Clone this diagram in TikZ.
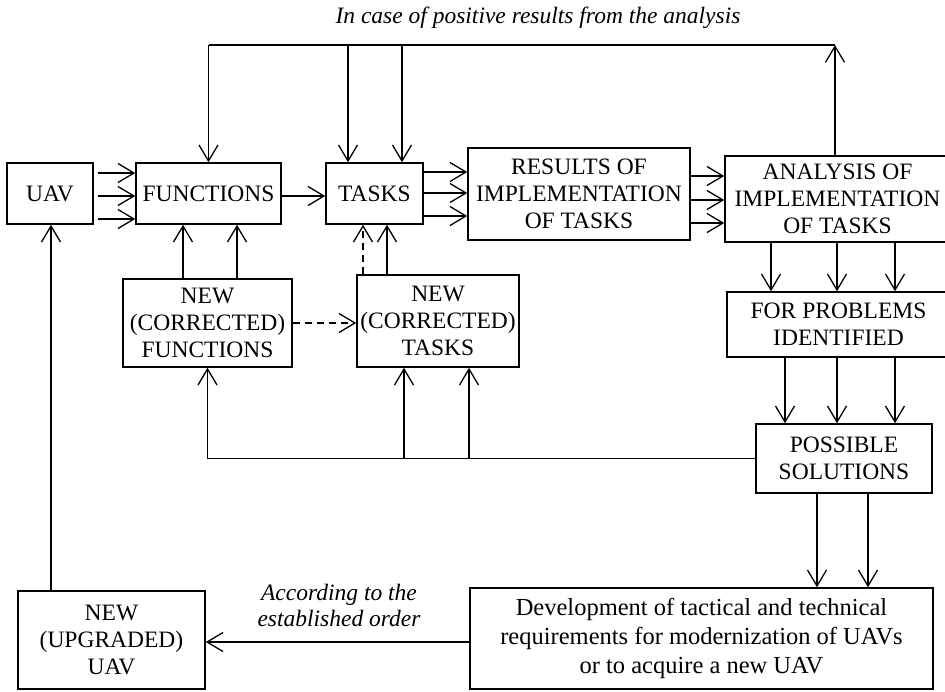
\documentclass[tikz,border=0pt]{standalone}
\usepackage{fontspec}
\setmainfont{Liberation Serif}
\usetikzlibrary{arrows.meta,calc,positioning}

\tikzset{
   line/.style={line width=1.3pt},
   flow/.style={-{Straight Barb[length=16pt,width=19pt]}, line width=1.3pt},
   dflow/.style={flow, dash pattern=on 7pt off 5pt},
}

\begin{document}
\begin{tikzpicture}[x=1pt, y=-1pt,
    blk/.style={draw, line width=1.5pt, align=center, inner sep=0pt,
                font=\fontsize{23.5}{27}\selectfont},
    note/.style={align=center, font=\fontsize{23.5}{26}\selectfont\itshape},
]
\useasboundingbox (0,0) rectangle (945,691);

% ------------------------------------------------------------
% Top row: UAV, functions, tasks, results, analysis
% ------------------------------------------------------------
\node[blk, minimum width=86pt,  minimum height=61pt] (uav) at (50,193.5)  {UAV};
\node[blk, minimum width=145pt, minimum height=61pt] (fun) at (208.5,193.5) {FUNCTIONS};
\node[blk, minimum width=97pt,  minimum height=61pt] (tsk) at (374.5,193.5) {TASKS};
\node[blk, minimum width=222pt, minimum height=92pt] (res) at (579,194)   {RESULTS OF\\IMPLEMENTATION\\OF TASKS};
\node[blk, minimum width=225pt, minimum height=86pt] (ana) at (837.5,199) {ANALYSIS OF\\IMPLEMENTATION\\OF TASKS};

\draw[flow] ($(uav.east)+(4,-20.5)$) -- ($(fun.west)+(0,-20.5)$);
\draw[flow] ($(uav.east)+(4,2.5)$)   -- ($(fun.west)+(0,2.5)$);
\draw[flow] ($(uav.east)+(4,25.5)$)  -- ($(fun.west)+(0,25.5)$);

\draw[flow] ($(fun.east)+(0,2.5)$) -- ($(tsk.west)+(0,2.5)$);

\draw[flow] ($(tsk.east)+(0,-21.5)$) -- ($(res.west)+(0,-22)$);
\draw[flow] ($(tsk.east)+(0,-0.5)$)  -- ($(res.west)+(0,-1)$);
\draw[flow] ($(tsk.east)+(0,22.5)$)  -- ($(res.west)+(0,22)$);

\draw[flow] ($(res.east)+(0,-18)$) -- ($(ana.west)+(0,-23)$);
\draw[flow] ($(res.east)+(0,6)$)   -- ($(ana.west)+(0,1)$);
\draw[flow] ($(res.east)+(0,29)$)  -- ($(ana.west)+(0,24)$);

% ------------------------------------------------------------
% Feedback over the top
% ------------------------------------------------------------
\node[note] (lbltop) at (538,18) {In case of positive results from the analysis};

\coordinate (topR) at (835,45);
\coordinate (topL) at (fun.north |- topR);

\draw[flow] ($(ana.north)+(-2.5,0)$) -- (topR);
\draw[line] (topR) -- (topL);
\draw[flow] (topL) -- (fun.north);
\draw[flow] ($(tsk.north)+(-26.5,-118)$) -- ($(tsk.north)+(-26.5,0)$);
\draw[flow] ($(tsk.north)+(27.5,-118)$)  -- ($(tsk.north)+(27.5,0)$);

% ------------------------------------------------------------
% Right column: problems, solutions
% ------------------------------------------------------------
\node[blk, minimum width=223pt, minimum height=65pt] (prob) at (838.5,324.5) {FOR PROBLEMS\\IDENTIFIED};
\node[blk, minimum width=176pt, minimum height=69pt] (sol)  at (844,458.5)   {POSSIBLE\\SOLUTIONS};

\draw[flow] ($(ana.south)+(-66.5,0)$) -- ($(prob.north)+(-67.5,0)$);
\draw[flow] ($(ana.south)+(-0.5,0)$)  -- ($(prob.north)+(-1.5,0)$);
\draw[flow] ($(ana.south)+(57.5,0)$)  -- ($(prob.north)+(56.5,0)$);

\draw[flow] ($(prob.south)+(-53.5,0)$) -- ($(sol.north)+(-59,0)$);
\draw[flow] ($(prob.south)+(-1.5,0)$)  -- ($(sol.north)+(-7,0)$);
\draw[flow] ($(prob.south)+(56.5,0)$)  -- ($(sol.north)+(51,0)$);

% ------------------------------------------------------------
% Corrected functions and tasks
% ------------------------------------------------------------
\node[blk, minimum width=169pt, minimum height=88pt] (nfun) at (207.5,323) {NEW\\(CORRECTED)\\FUNCTIONS};
\node[blk, minimum width=162pt, minimum height=92pt] (ntsk) at (438,321)   {NEW\\(CORRECTED)\\TASKS};

\draw[flow] (sol.west) -| (nfun.south);
\draw[flow] ($(ntsk.south)+(-34,91.5)$) -- ($(ntsk.south)+(-34,0)$);
\draw[flow] ($(ntsk.south)+(31,91.5)$)  -- ($(ntsk.south)+(31,0)$);

\draw[flow] ($(nfun.north)+(-24.5,0)$) -- ($(fun.south)+(-25.5,0)$);
\draw[flow] ($(nfun.north)+(29.5,0)$)  -- ($(fun.south)+(28.5,0)$);

\draw[dflow] ($(ntsk.north)+(-75,0)$) -- ($(tsk.south)+(-11.5,0)$);
\draw[flow]  ($(ntsk.north)+(-51,0)$) -- ($(tsk.south)+(12.5,0)$);

\draw[dflow] (nfun.east) -- ($(ntsk.west)+(0,2)$);

% ------------------------------------------------------------
% Bottom row: requirements and new UAV
% ------------------------------------------------------------
\node[blk, minimum width=463pt, minimum height=101pt, font=\fontsize{24.5}{29}\selectfont] (dev) at (701.5,638.5)
   {Development of tactical and technical\\requirements for modernization of UAVs\\or to acquire a new UAV};
\node[blk, minimum width=187pt, minimum height=98pt]  (nuav) at (111.5,640) {NEW\\(UPGRADED)\\UAV};

\draw[flow] ($(sol.south)+(-27,0)$) -- ($(dev.north)+(115.5,0)$);
\draw[flow] ($(sol.south)+(24,0)$)  -- ($(dev.north)+(166.5,0)$);

\draw[flow] ($(dev.west)+(0,3.5)$) -- ($(nuav.east)+(0,2)$);
\node[note] (lblord) at (339,605.5) {According to the\\established order};

\draw[flow] ($(nuav.north)+(-60.5,0)$) -- ($(uav.south)+(1,0)$);
\end{tikzpicture}
\end{document}
